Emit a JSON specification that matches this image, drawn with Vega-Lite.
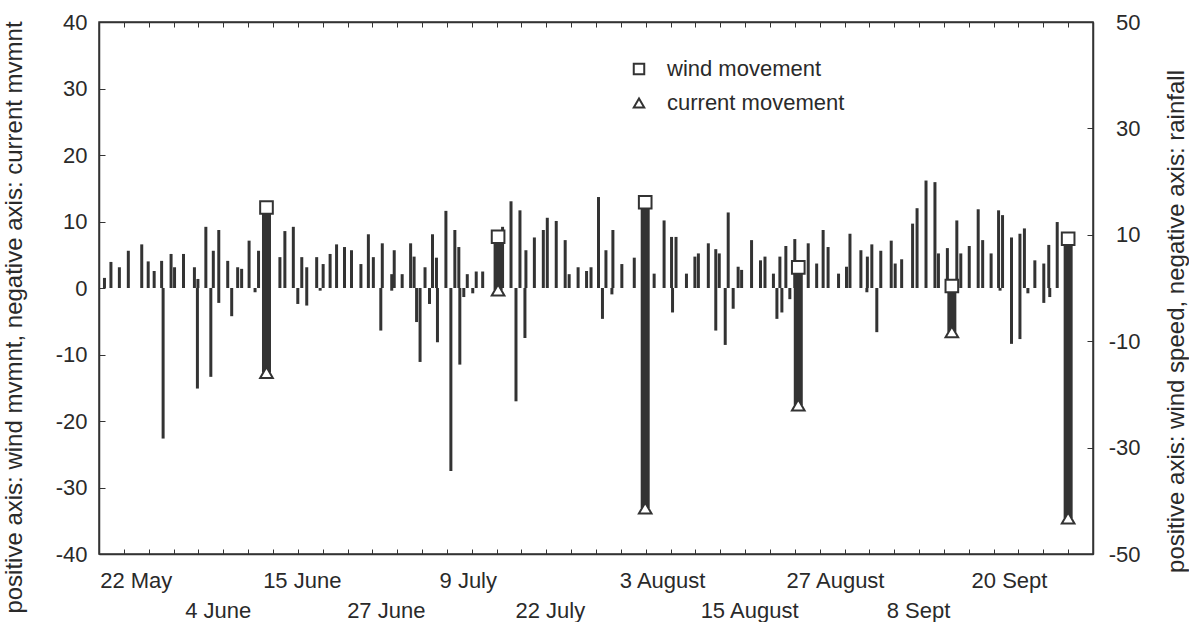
{
  "$schema": "https://vega.github.io/schema/vega-lite/v6.json",
  "width": 994,
  "height": 532,
  "autosize": {"type": "none"},
  "padding": {"left": 99, "top": 22, "right": 96, "bottom": 68},
  "background": "white",
  "config": {
    "font": "Liberation Sans",
    "view": {"stroke": "#333333", "strokeWidth": 1.5},
    "axis": {
      "labelFont": "Liberation Sans", "labelFontSize": 22, "labelColor": "#2a2a2a",
      "titleFont": "Liberation Sans", "titleFontSize": 24, "titleColor": "#2a2a2a", "titleFontWeight": "normal",
      "domainColor": "#333333", "domainWidth": 1.5, "tickColor": "#333333", "grid": false,
      "labelFlush": false, "labelOverlap": false
    },
    "legend": {"symbolStrokeWidth": 2, "symbolSize": 110}
  },
  "datasets": {
    "weather": [
      {"t":1.1,"v":1.9},{"t":2.4,"v":4.9},{"t":4.1,"v":3.9},{"t":5.9,"v":7.0},{"t":8.6,"v":8.2},{"t":9.9,"v":5.0},{"t":11.1,"v":3.2},{"t":12.6,"v":5.1},{"t":14.5,"v":6.4},{"t":15.2,"v":3.9},
      {"t":17.0,"v":6.4},{"t":19.2,"v":3.9},{"t":19.9,"v":1.7},{"t":21.5,"v":11.5},{"t":23.0,"v":7.0},{"t":24.1,"v":10.9},{"t":25.9,"v":5.1},{"t":27.9,"v":3.9},{"t":28.7,"v":3.6},{"t":30.2,"v":8.9},
      {"t":32.1,"v":7.0},{"t":36.4,"v":5.8},{"t":37.4,"v":10.7},{"t":39.1,"v":11.5},{"t":40.8,"v":5.8},{"t":41.8,"v":3.9},{"t":43.8,"v":5.8},{"t":45.1,"v":4.5},{"t":46.5,"v":6.4},{"t":47.8,"v":8.2},
      {"t":49.4,"v":7.7},{"t":50.8,"v":7.1},{"t":52.7,"v":4.5},{"t":54.2,"v":10.1},{"t":55.2,"v":5.8},{"t":57.0,"v":8.4},{"t":58.9,"v":2.6},{"t":59.4,"v":7.1},{"t":61.0,"v":2.6},{"t":62.7,"v":8.4},
      {"t":63.4,"v":5.9},{"t":65.6,"v":3.9},{"t":67.1,"v":10.1},{"t":67.9,"v":5.7},{"t":69.8,"v":14.5},{"t":71.6,"v":10.9},{"t":72.4,"v":7.7},{"t":74.1,"v":2.6},{"t":75.9,"v":3.1},{"t":77.2,"v":3.1},
      {"t":81.2,"v":11.5},{"t":82.9,"v":16.3},{"t":84.7,"v":14.6},{"t":85.9,"v":7.1},{"t":87.6,"v":9.5},{"t":89.4,"v":10.9},{"t":90.2,"v":13.2},{"t":92.0,"v":12.6},{"t":93.8,"v":9.0},{"t":94.6,"v":2.6},
      {"t":96.4,"v":3.9},{"t":98.1,"v":3.2},{"t":99.0,"v":3.9},{"t":100.5,"v":17.1},{"t":102.0,"v":7.1},{"t":103.4,"v":10.9},{"t":105.2,"v":4.5},{"t":107.7,"v":5.7},{"t":111.7,"v":2.7},{"t":113.7,"v":12.7},
      {"t":115.2,"v":9.6},{"t":116.1,"v":9.6},{"t":118.2,"v":2.7},{"t":119.9,"v":5.9},{"t":120.6,"v":6.5},{"t":122.6,"v":8.4},{"t":124.1,"v":7.3},{"t":124.8,"v":6.5},{"t":126.6,"v":14.2},{"t":128.6,"v":4.0},
      {"t":129.3,"v":3.4},{"t":131.3,"v":9.0},{"t":133.1,"v":5.2},{"t":134.0,"v":5.9},{"t":135.7,"v":2.7},{"t":137.0,"v":5.9},{"t":138.2,"v":7.9},{"t":140.0,"v":9.2},{"t":142.7,"v":8.4},{"t":144.4,"v":4.6},
      {"t":145.7,"v":10.9},{"t":146.7,"v":7.7},{"t":148.8,"v":2.7},{"t":150.4,"v":4.0},{"t":151.1,"v":10.2},{"t":153.3,"v":7.1},{"t":154.6,"v":5.9},{"t":155.5,"v":8.2},{"t":157.3,"v":7.0},{"t":159.4,"v":8.9},
      {"t":160.2,"v":4.6},{"t":161.5,"v":5.4},{"t":163.7,"v":12.1},{"t":164.6,"v":15.0},{"t":166.4,"v":20.2},{"t":168.2,"v":19.9},{"t":168.9,"v":6.5},{"t":170.7,"v":7.5},{"t":172.6,"v":12.7},{"t":173.4,"v":6.5},
      {"t":175.1,"v":7.9},{"t":176.9,"v":14.8},{"t":177.8,"v":9.0},{"t":179.5,"v":6.5},{"t":181.0,"v":14.6},{"t":181.8,"v":13.7},{"t":183.6,"v":9.5},{"t":185.3,"v":10.2},{"t":186.2,"v":11.2},{"t":188.3,"v":5.2},
      {"t":190.1,"v":4.6},{"t":191.1,"v":8.1},{"t":192.8,"v":12.4},
      {"t":12.9,"v":-28.3},{"t":19.8,"v":-18.9},{"t":22.5,"v":-16.7},{"t":24.1,"v":-2.8},{"t":26.7,"v":-5.3},{"t":31.4,"v":-0.8},{"t":40.0,"v":-3.0},{"t":41.8,"v":-3.3},{"t":44.5,"v":-0.5},{"t":56.7,"v":-8.0},
      {"t":58.9,"v":-0.5},{"t":63.9,"v":-6.4},{"t":64.6,"v":-13.9},{"t":66.5,"v":-3.0},{"t":68.1,"v":-10.2},{"t":70.8,"v":-34.4},{"t":72.6,"v":-14.4},{"t":73.4,"v":-1.7},{"t":75.2,"v":-1.0},{"t":83.9,"v":-21.3},
      {"t":85.7,"v":-9.4},{"t":101.3,"v":-5.8},{"t":103.2,"v":-1.2},{"t":115.4,"v":-4.6},{"t":124.1,"v":-8.0},{"t":126.0,"v":-10.7},{"t":127.6,"v":-3.9},{"t":136.4,"v":-5.8},{"t":137.4,"v":-4.6},{"t":139.0,"v":-2.1},
      {"t":154.5,"v":-0.8},{"t":156.5,"v":-8.3},{"t":181.3,"v":-0.5},{"t":183.6,"v":-10.5},{"t":185.3,"v":-9.6},{"t":186.9,"v":-1.0},{"t":190.1,"v":-2.8},{"t":191.3,"v":-1.7}
    ],
    "events": [
      {"t":33.7,"wind":12.1,"current":-12.7},
      {"t":80.3,"wind":7.7,"current":-0.3},
      {"t":109.9,"wind":12.9,"current":-33.1},
      {"t":140.7,"wind":3.1,"current":-17.6},
      {"t":171.6,"wind":0.3,"current":-6.6},
      {"t":195.0,"wind":7.4,"current":-34.6}
    ]
  },
  "layer": [
    {
      "data": {"name": "weather"},
      "mark": {"type": "bar", "size": 3, "color": "#333333"},
      "encoding": {
        "x": {
          "field": "t", "type": "quantitative",
          "scale": {"domain": [0, 200], "nice": false, "padding": 0},
          "axis": {
            "orient": "bottom", "title": null, "labels": false, "tickSize": -5,
            "values": [0,5,10,15,20,25,30,35,40,45,50,55,60,65,70,75,80,85,90,95,100,105,110,115,120,125,130,135,140,145,150,155,160,165,170,175,180,185,190,195,200]
          }
        },
        "y": {
          "field": "v", "type": "quantitative",
          "scale": {"domain": [-50, 50], "nice": false, "padding": 0},
          "axis": {
            "orient": "right", "values": [-50, -30, -10, 10, 30, 50],
            "tickSize": -6, "labelPadding": 53, "labelAlign": "right",
            "labelExpr": "toString(datum.value)",
            "title": "positive axis: wind speed, negative axis: rainfall",
            "titleAngle": 270, "titleX": 83, "titleY": 299, "titleAlign": "center", "titleBaseline": "middle"
          }
        }
      }
    },
    {
      "data": {"name": "events"},
      "mark": {"type": "bar", "size": 9, "color": "#333333"},
      "encoding": {
        "x": {
          "field": "t", "type": "quantitative",
          "axis": {
            "orient": "bottom", "title": null, "ticks": false, "domain": false,
            "labelPadding": 16, "labelLineHeight": 30, "labelBaseline": "top", "labelAlign": "center",
            "values": [7.4, 23.9, 40.8, 57.7, 74.2, 90.7, 113.3, 130.8, 148.1, 164.8, 183.1],
            "labelExpr": "datum.value == 7.4 ? '22 May' : datum.value == 23.9 ? ['', '4 June'] : datum.value == 40.8 ? '15 June' : datum.value == 57.7 ? ['', '27 June'] : datum.value == 74.2 ? '9 July' : datum.value == 90.7 ? ['', '22 July'] : datum.value == 113.3 ? '3 August' : datum.value == 130.8 ? ['', '15 August'] : datum.value == 148.1 ? '27 August' : datum.value == 164.8 ? ['', '8 Sept'] : '20 Sept'"
          }
        },
        "y": {
          "field": "wind", "type": "quantitative",
          "scale": {"domain": [-40, 40], "nice": false, "padding": 0},
          "axis": {
            "orient": "left", "values": [-40, -30, -20, -10, 0, 10, 20, 30, 40],
            "tickSize": -6, "labelPadding": 18,
            "labelExpr": "toString(datum.value)",
            "title": "positive axis: wind mvmnt, negative axis: current mvmnt",
            "titleAngle": 270, "titleX": -85, "titleY": 295, "titleAlign": "center", "titleBaseline": "middle"
          }
        },
        "y2": {"field": "current"}
      }
    },
    {
      "data": {"name": "events"},
      "transform": [{"fold": ["wind", "current"], "as": ["type", "value"]}],
      "mark": {"type": "point", "filled": true, "fill": "white", "stroke": "#333333", "strokeWidth": 2, "size": 160, "opacity": 1},
      "encoding": {
        "x": {
          "field": "t", "type": "quantitative",
          "axis": {
            "orient": "top", "title": null, "labels": false, "tickSize": -5,
            "values": [0,5,10,15,20,25,30,35,40,45,50,55,60,65,70,75,80,85,90,95,100,105,110,115,120,125,130,135,140,145,150,155,160,165,170,175,180,185,190,195,200]
          }
        },
        "y": {"field": "value", "type": "quantitative", "scale": {"domain": [-40, 40], "nice": false, "padding": 0}, "axis": null},
        "shape": {
          "field": "type", "type": "nominal",
          "scale": {"domain": ["wind", "current"], "range": ["square", "triangle-up"]},
          "legend": {
            "orient": "none", "legendX": 529, "legendY": 36, "title": null,
            "labelFont": "Liberation Sans", "labelFontSize": 22, "labelColor": "#2a2a2a", "labelLimit": 0,
            "labelOffset": 17, "rowPadding": 12,
            "labelExpr": "datum.value == 'wind' ? 'wind movement' : 'current movement'"
          }
        }
      }
    }
  ],
  "resolve": {"scale": {"y": "independent"}, "axis": {"x": "independent"}}
}
